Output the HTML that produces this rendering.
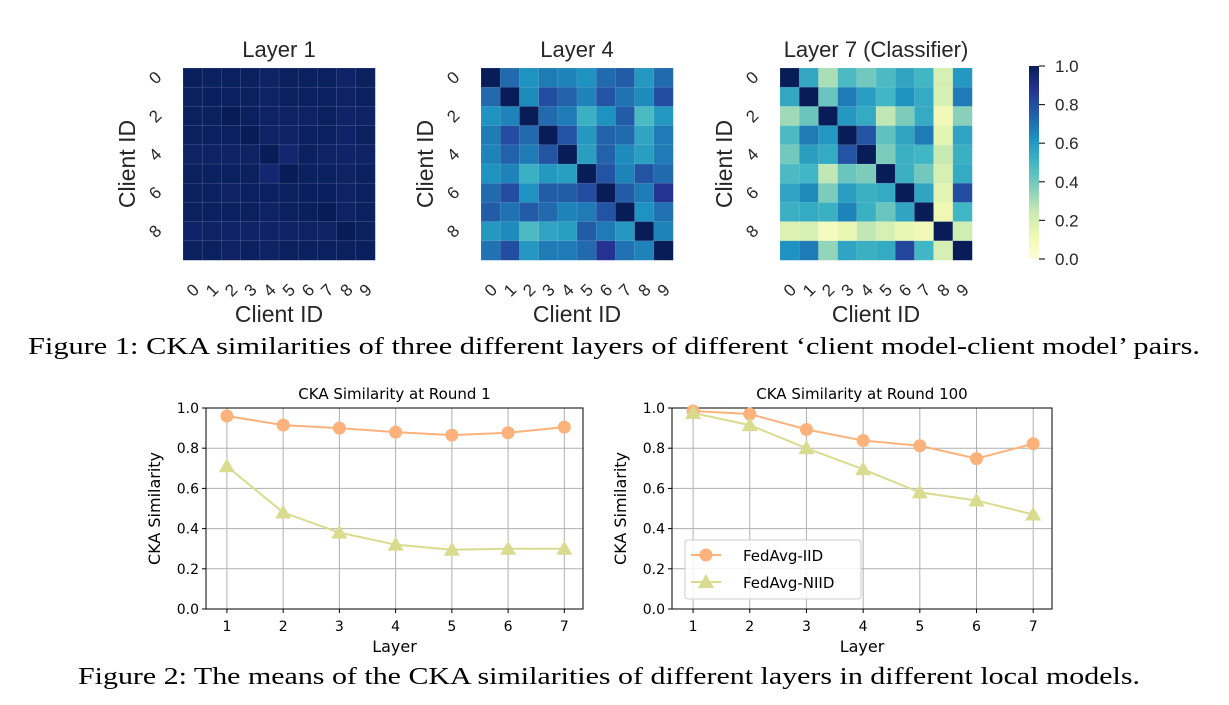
<!DOCTYPE html>
<html><head><meta charset="utf-8"><style>
body{margin:0;background:#fff;width:1229px;height:705px;overflow:hidden}
svg{display:block}
</style></head><body>
<svg id="fig" width="1229" height="705" xmlns="http://www.w3.org/2000/svg"></svg>
<script>
const clientIds=[0,1,2,3,4,5,6,7,8,9];
const layer1=[
[.99,.985,.985,.985,.975,.985,.985,.985,.965,.985],
[.985,.99,.985,.985,.975,.985,.985,.985,.975,.985],
[.985,.985,1,.985,.975,.975,.975,.985,.965,.975],
[.985,.985,.985,1,.975,.975,.985,.985,.965,.985],
[.975,.975,.975,.975,1,.95,.985,.975,.965,.975],
[.985,.985,.985,.985,.95,1,.985,.985,.975,.985],
[.985,.985,.975,.985,.985,.985,.99,.99,.975,.985],
[.985,.985,.985,.985,.975,.985,.99,1,.975,.985],
[.965,.975,.965,.965,.965,.975,.975,.975,1,.985],
[.985,.985,.975,.985,.975,.985,.985,.985,.985,.99]];
const layer4=[
[1,.72,.62,.68,.66,.62,.72,.76,.6,.72],
[.72,1,.64,.8,.74,.66,.78,.7,.64,.8],
[.62,.66,1,.72,.68,.52,.62,.76,.48,.6],
[.68,.8,.72,1,.78,.6,.74,.72,.56,.68],
[.66,.74,.68,.78,1,.58,.74,.64,.58,.68],
[.62,.66,.52,.6,.58,1,.78,.66,.78,.72],
[.72,.8,.62,.76,.76,.8,1,.76,.68,.88],
[.76,.7,.76,.72,.66,.68,.78,1,.62,.7],
[.6,.64,.48,.56,.58,.76,.68,.6,1,.66],
[.7,.8,.6,.68,.68,.72,.88,.7,.66,1]];
const layer7=[
[1,.55,.3,.48,.4,.48,.56,.5,.2,.6],
[.55,1,.42,.68,.58,.5,.62,.54,.2,.68],
[.32,.42,1,.6,.54,.26,.38,.54,.1,.36],
[.48,.68,.6,1,.78,.44,.56,.68,.16,.56],
[.4,.58,.54,.78,1,.38,.52,.5,.24,.52],
[.48,.5,.26,.42,.38,1,.52,.4,.2,.54],
[.56,.64,.38,.58,.52,.54,1,.56,.16,.8],
[.52,.54,.52,.66,.52,.42,.56,1,.12,.5],
[.18,.2,.08,.14,.26,.2,.14,.1,1,.22],
[.62,.68,.34,.56,.52,.54,.82,.5,.2,1]];
const heatTitles=["Layer 1","Layer 4","Layer 7 (Classifier)"];
const cbTicks=[0,0.2,0.4,0.6,0.8,1.0];
const layers=[1,2,3,4,5,6,7];
const r1IID=[.96,.915,.90,.88,.865,.877,.905];
const r1NIID=[.71,.48,.38,.32,.295,.30,.30];
const r100IID=[.985,.97,.893,.838,.812,.748,.822];
const r100NIID=[.975,.915,.80,.695,.58,.54,.47];
const yTicks=[0,0.2,0.4,0.6,0.8,1.0];

const NS="http://www.w3.org/2000/svg";
const svg=document.getElementById('fig');
function mk(tag,attrs,parent,text){const e=document.createElementNS(NS,tag);for(const k in attrs)e.setAttribute(k,attrs[k]);if(text!==undefined)e.textContent=text;(parent||svg).appendChild(e);return e;}
const stops=[[255,255,217],[237,248,177],[199,233,180],[127,205,187],[65,182,196],[29,145,192],[34,94,168],[37,52,148],[8,29,88]];
function cmap(v){v=Math.max(0,Math.min(1,v));const p=v*8,i=Math.min(7,Math.floor(p)),f=p-i;const a=stops[i],b=stops[i+1];return `rgb(${a.map((c,k)=>Math.round(c+(b[k]-c)*f)).join(',')})`;}
const SANS='"Liberation Sans",Arial,sans-serif';
const DJ='"DejaVu Sans","Liberation Sans",sans-serif';

const mats=[layer1,layer4,layer7];
const hx=[183,481,780], hy=68, hs=192;
mats.forEach((m,hi)=>{
  const g=mk('g',{},svg);
  
  
  const cs=hs/clientIds.length;
  m.forEach((row,r)=>row.forEach((v,c)=>{
    const rc=mk('rect',{x:hx[hi]+c*cs,y:hy+r*cs,width:cs+0.3,height:cs+0.3,fill:cmap(v),stroke:'rgba(255,255,255,0.2)','stroke-width':0.6},g);
    
    
  }));
  const t=mk('text',{x:hx[hi]+hs/2,y:57,'text-anchor':'middle','font-family':SANS,'font-size':22,fill:'#262626'},svg,heatTitles[hi]);
  
  
  clientIds.forEach((id,i)=>{
    const xx=hx[hi]+i*cs+cs/2;
    const tx=mk('text',{x:xx,y:296,'text-anchor':'middle','font-family':SANS,'font-size':17,fill:'#262626',transform:`rotate(-45 ${xx} 290)`},svg,id);
    
    
    if(id%2===0){const yy=hy+i*cs+cs/2;
      const ty=mk('text',{x:hx[hi]-28,y:yy+6,'text-anchor':'middle','font-family':SANS,'font-size':17,fill:'#262626',transform:`rotate(-45 ${hx[hi]-28} ${yy})`},svg,id);
      
      }
  });
  const xl=mk('text',{x:hx[hi]+hs/2,y:322,'text-anchor':'middle','font-family':SANS,'font-size':23,fill:'#262626'},svg,'Client ID');
  
  
  const yx=hx[hi]-48, yyc=hy+hs/2;
  const yl=mk('text',{x:yx,y:yyc,'text-anchor':'middle','font-family':SANS,'font-size':23,fill:'#262626',transform:`rotate(-90 ${yx} ${yyc})`},svg,'Client ID');
  
  
});
const defs=mk('defs',{},svg);
const lg=mk('linearGradient',{id:'cbg',x1:0,y1:1,x2:0,y2:0},defs);
for(let i=0;i<=8;i++)mk('stop',{offset:i/8,'stop-color':cmap(i/8)},lg);
const cb=mk('rect',{x:1029,y:66,width:10,height:193,fill:'url(#cbg)'},svg);


cbTicks.forEach(v=>{const y=259-v*193;
  mk('line',{x1:1039,x2:1045,y1:y,y2:y,stroke:'#262626','stroke-width':1.2},svg);
  const t=mk('text',{x:1055,y:y+6,'font-family':SANS,'font-size':17,fill:'#262626'},svg,v.toFixed(1));
  
  
});
const c1=mk('text',{x:614,y:354,'text-anchor':'middle','font-family':'"Liberation Serif",serif','font-size':24,fill:'#000',textLength:1172,lengthAdjust:'spacingAndGlyphs'},svg,'Figure 1: CKA similarities of three different layers of different \u2018client model-client model\u2019 pairs.');



function lineChart(L,R,T,B,title,iid,niid,legend,name){
  const g=mk('g',{},svg);
  
  
  const x0=L+(R-L)*0.0555, x1=R-(R-L)*0.0495;
  const sx=v=>x0+(v-1)*(x1-x0)/6, sy=v=>B-v*(B-T);
  layers.forEach(v=>{mk('line',{x1:sx(v),x2:sx(v),y1:T,y2:B,stroke:'#b0b0b0','stroke-width':1},g);
    mk('line',{x1:sx(v),x2:sx(v),y1:B,y2:B+4,stroke:'#000'},g);
    const t=mk('text',{x:sx(v),y:B+22,'text-anchor':'middle','font-family':DJ,'font-size':14,fill:'#000'},g,v);
    
    });
  yTicks.forEach(v=>{mk('line',{x1:L,x2:R,y1:sy(v),y2:sy(v),stroke:'#b0b0b0','stroke-width':1},g);
    mk('line',{x1:L-4,x2:L,y1:sy(v),y2:sy(v),stroke:'#000'},g);
    const t=mk('text',{x:L-7,y:sy(v)+5,'text-anchor':'end','font-family':DJ,'font-size':14,fill:'#000'},g,v.toFixed(1));
    
    });
  const fr=mk('rect',{x:L,y:T,width:R-L,height:B-T,fill:'none',stroke:'#000','stroke-width':1},g);
  
  
  const orange='#fdb27b', olive='#d9dc8f';
  const p2=mk('polyline',{points:niid.map((v,i)=>sx(layers[i])+','+sy(v)).join(' '),fill:'none',stroke:olive,'stroke-width':2},g);
  
  
  const p1=mk('polyline',{points:iid.map((v,i)=>sx(layers[i])+','+sy(v)).join(' '),fill:'none',stroke:orange,'stroke-width':2},g);
  
  
  iid.forEach((v,i)=>{const c=mk('circle',{cx:sx(layers[i]),cy:sy(v),r:6.5,fill:orange},g);
    
    });
  niid.forEach((v,i)=>{const x=sx(layers[i]),y=sy(v);
    const p=mk('polygon',{points:`${x},${y-8} ${x-8},${y+6} ${x+8},${y+6}`,fill:olive},g);
    
    });
  const t=mk('text',{x:(L+R)/2,y:T-9,'text-anchor':'middle','font-family':DJ,'font-size':15,fill:'#000'},g,title);
  
  
  const xl=mk('text',{x:(L+R)/2,y:B+43,'text-anchor':'middle','font-family':DJ,'font-size':16,fill:'#000'},g,'Layer');
  
  
  const yx=L-46,yc=(T+B)/2;
  const yl=mk('text',{x:yx,y:yc,'text-anchor':'middle','font-family':DJ,'font-size':16,fill:'#000',transform:`rotate(-90 ${yx} ${yc})`},g,'CKA Similarity');
  
  
  if(legend){
    const lgG=mk('g',{},g);
    
    
    mk('rect',{x:685,y:540,width:176,height:59,rx:3,fill:'rgba(255,255,255,0.85)',stroke:'#ccc'},lgG);
    mk('line',{x1:691,x2:721,y1:555,y2:555,stroke:orange,'stroke-width':2},lgG);
    mk('circle',{cx:706,cy:555,r:6.5,fill:orange},lgG);
    const e1=mk('text',{x:743,y:561,'font-family':DJ,'font-size':15,fill:'#000'},lgG,'FedAvg-IID');
    
    
    mk('line',{x1:691,x2:721,y1:582,y2:582,stroke:olive,'stroke-width':2},lgG);
    mk('polygon',{points:'706,574 698,588 714,588',fill:olive},lgG);
    const e2=mk('text',{x:743,y:588,'font-family':DJ,'font-size':15,fill:'#000'},lgG,'FedAvg-NIID');
    
    
  }
}
lineChart(206,583,408,609,'CKA Similarity at Round 1',r1IID,r1NIID,false,'round-1-chart');
lineChart(672,1052,408,609,'CKA Similarity at Round 100',r100IID,r100NIID,true,'round-100-chart');
const c2=mk('text',{x:609,y:684,'text-anchor':'middle','font-family':'"Liberation Serif",serif','font-size':24,fill:'#000',textLength:1062,lengthAdjust:'spacingAndGlyphs'},svg,'Figure 2: The means of the CKA similarities of different layers in different local models.');


</script>
</body></html>
